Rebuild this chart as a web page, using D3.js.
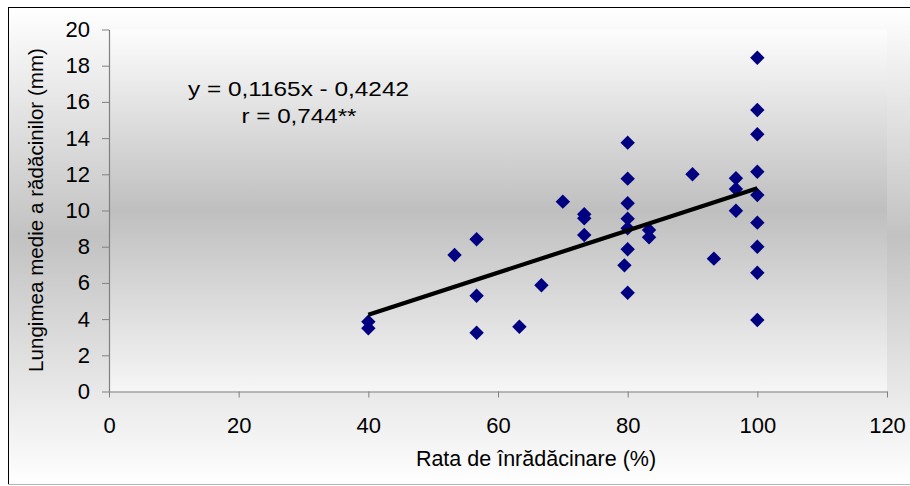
<!DOCTYPE html>
<html>
<head>
<meta charset="utf-8">
<script src="https://cdn.jsdelivr.net/npm/d3@7"></script>
<style>
  html, body { margin: 0; padding: 0; background: #ffffff; }
  svg { display: block; }
  text { font-family: "Liberation Sans", Arial, sans-serif; fill: #000; }
</style>
</head>
<body>
<script>
// ---- Data ----
const xValues = [40, 40, 53.3, 56.7, 56.7, 56.7, 63.3, 66.7,
                 70, 73.3, 73.3, 73.3,
                 80, 80, 80, 80, 80, 80, 79.5, 80,
                 83.3, 83.3, 90, 93.3,
                 96.7, 96.7, 96.7,
                 100, 100, 100, 100, 100, 100, 100, 100, 100];
const yValues = [3.86, 3.49, 7.54, 8.41, 5.29, 3.25, 3.58, 5.87,
                 10.49, 9.79, 9.57, 8.65,
                 13.75, 11.76, 10.40, 9.55, 9.02, 7.86, 6.97, 5.46,
                 8.92, 8.52, 12.0, 7.34,
                 11.78, 11.19, 9.99,
                 18.44, 15.55, 14.21, 12.14, 10.86, 9.33, 8.0, 6.56, 3.95];
const xTicks = [0, 20, 40, 60, 80, 100, 120];
const yTicks = [0, 2, 4, 6, 8, 10, 12, 14, 16, 18, 20];
const slope = 0.1165, intercept = -0.4242;
const fitRange = [40, 100];
const equationLines = ["y = 0,1165x - 0,4242", "r = 0,744**"];
const xTitle = "Rata de înrădăcinare (%)";
const yTitle = "Lungimea medie a rădăcinilor (mm)";

// ---- Layout ----
const W = 910, H = 486;
const plot = { left: 109, right: 887, top: 29.5, bottom: 391.5 };

const svg = d3.select("body").append("svg").attr("width", W).attr("height", H);
const defs = svg.append("defs");

function vgrad(id, stops) {
  const g = defs.append("linearGradient").attr("id", id)
    .attr("x1", 0).attr("y1", 0).attr("x2", 0).attr("y2", 1);
  stops.forEach(s => g.append("stop").attr("offset", s[0]).attr("stop-color", s[1]));
}
vgrad("outerGrad", [[0, "#ffffff"], [0.48, "#c2c2c2"], [1, "#ffffff"]]);
vgrad("plotGrad", [[0, "#fdfdfd"], [0.5, "#bfbfbf"], [1, "#f6f6f6"]]);

// chart area
svg.append("rect").attr("x", 8).attr("y", 7).attr("width", W).attr("height", 478)
  .attr("fill", "url(#outerGrad)");
svg.append("line").attr("x1", 8.5).attr("x2", 8.5).attr("y1", 7).attr("y2", 485)
  .attr("stroke", "#000").attr("stroke-width", 1);
svg.append("line").attr("x1", 8).attr("x2", W).attr("y1", 7.5).attr("y2", 7.5)
  .attr("stroke", "#000").attr("stroke-width", 1);
svg.append("line").attr("x1", 8).attr("x2", W).attr("y1", 484.5).attr("y2", 484.5)
  .attr("stroke", "#b4b4b4").attr("stroke-width", 1);

// plot area
svg.append("rect").attr("x", plot.left).attr("y", plot.top)
  .attr("width", plot.right - plot.left).attr("height", plot.bottom - plot.top)
  .attr("fill", "url(#plotGrad)");

// scales
const x = d3.scaleLinear().domain([0, 120]).range([plot.left, plot.right]);
const y = d3.scaleLinear().domain([0, 20]).range([plot.bottom, plot.top]);

// axes
const xAxis = svg.append("g").attr("transform", `translate(0,${plot.bottom})`)
  .call(d3.axisBottom(x).tickValues(xTicks).tickFormat(d3.format("d"))
    .tickSizeInner(6).tickSizeOuter(0).tickPadding(20));
const yAxis = svg.append("g").attr("transform", `translate(${plot.left},0)`)
  .call(d3.axisLeft(y).tickValues(yTicks).tickFormat(d3.format("d"))
    .tickSizeInner(7).tickSizeOuter(0).tickPadding(12));
[xAxis, yAxis].forEach(g => {
  g.select(".domain").attr("stroke", "#808080").attr("stroke-width", 1.2);
  g.selectAll(".tick line").attr("stroke", "#808080").attr("stroke-width", 1);
  g.selectAll(".tick text").attr("font-size", 22).attr("font-family", "Liberation Sans, Arial, sans-serif").attr("fill", "#000");
});

// points
const pts = d3.range(xValues.length).map(i => ({ x: xValues[i], y: yValues[i] }));
const diamond = d3.symbol().type(d3.symbolSquare).size(104);
svg.append("g").selectAll("path").data(pts).join("path")
  .attr("d", diamond)
  .attr("transform", d => `translate(${x(d.x)},${y(d.y)}) rotate(45)`)
  .attr("fill", "#000080");

// regression line
const line = d3.line().x(d => x(d)).y(d => y(slope * d + intercept));
svg.append("path").datum(fitRange).attr("d", line)
  .attr("stroke", "#000").attr("stroke-width", 4.2).attr("fill", "none")
  .attr("stroke-linecap", "butt");

// equation text
svg.append("text").attr("x", 298.5).attr("y", 96).attr("text-anchor", "middle")
  .attr("font-size", 21).attr("textLength", 221).attr("lengthAdjust", "spacingAndGlyphs")
  .text(equationLines[0]);
svg.append("text").attr("x", 299).attr("y", 123).attr("text-anchor", "middle")
  .attr("font-size", 21).attr("textLength", 115).attr("lengthAdjust", "spacingAndGlyphs")
  .text(equationLines[1]);

// axis titles
svg.append("text").attr("x", 536).attr("y", 466).attr("text-anchor", "middle")
  .attr("font-size", 21.5).text(xTitle);
svg.append("text").attr("transform", "translate(43,210) rotate(-90)")
  .attr("text-anchor", "middle").attr("font-size", 20.6).text(yTitle);
</script>
</body>
</html>
